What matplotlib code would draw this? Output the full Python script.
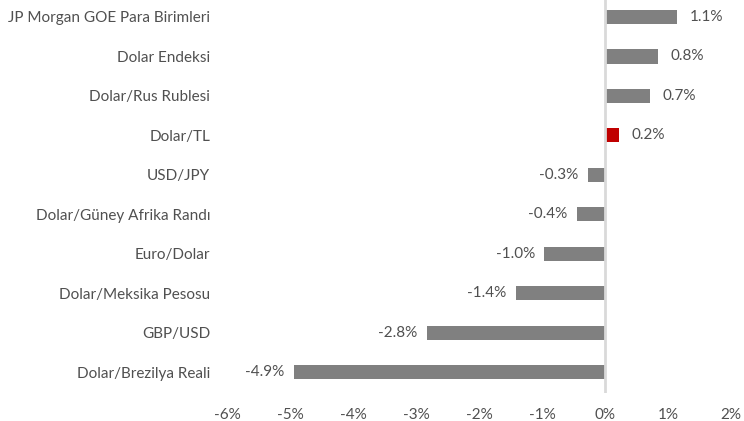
import matplotlib.pyplot as plt
from matplotlib.ticker import FuncFormatter

plt.rcParams["font.family"] = ["Lato", "DejaVu Sans"]

# data, bottom to top as drawn
categories = [
    "Dolar/Brezilya Reali",
    "GBP/USD",
    "Dolar/Meksika Pesosu",
    "Euro/Dolar",
    "Dolar/Güney Afrika Randı",
    "USD/JPY",
    "Dolar/TL",
    "Dolar/Rus Rublesi",
    "Dolar Endeksi",
    "JP Morgan GOE Para Birimleri",
]
changes = [-4.94, -2.83, -1.41, -0.96, -0.44, -0.27, 0.22, 0.72, 0.84, 1.14]
highlight = "Dolar/TL"
xticks = [-6, -5, -4, -3, -2, -1, 0, 1, 2]

text_color = "#505050"
colors = ["#c00000" if c == highlight else "#808080" for c in categories]

fig = plt.figure(figsize=(7.44, 4.21), dpi=100)
ax = fig.add_axes([0.305, 0.0665, 0.9825 - 0.305, 0.9335])

ypos = list(range(len(categories)))
ax.barh(ypos, changes, height=0.36, color=colors, zorder=2)
ax.axvline(0, color="#d9d9d9", linewidth=2, zorder=3)

for y, v in zip(ypos, changes):
    if v >= 0:
        ax.annotate(f"{v:.1f}%", (v, y), xytext=(9, 0), textcoords="offset points",
                    ha="left", va="center", fontsize=11, color=text_color)
    else:
        ax.annotate(f"{v:.1f}%", (v, y), xytext=(-7, 0), textcoords="offset points",
                    ha="right", va="center", fontsize=11, color=text_color)

ax.set_xlim(-6, 2)
ax.set_ylim(-0.53, 9.43)
ax.set_xticks(xticks)
ax.xaxis.set_major_formatter(FuncFormatter(lambda x, _: f"{x:.0f}%"))
ax.set_yticks(ypos)
ax.set_yticklabels(categories)
ax.tick_params(axis="both", length=0, labelsize=11, labelcolor=text_color)
ax.tick_params(axis="x", pad=11)
ax.tick_params(axis="y", pad=12)
for spine in ax.spines.values():
    spine.set_visible(False)

fig.savefig("out.png", dpi=100)
